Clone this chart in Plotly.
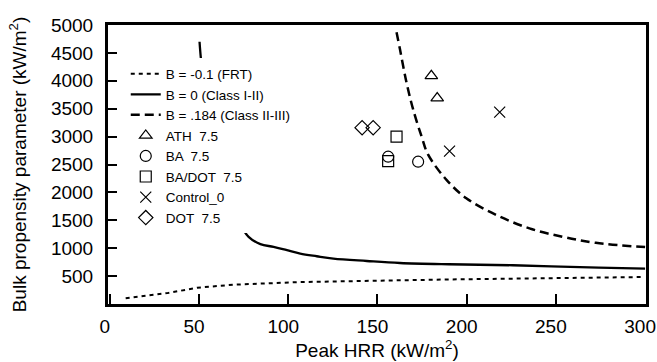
import plotly.graph_objects as go

# B = -0.1 (FRT) curve
frt_x = [8.9, 32.2, 49, 69.4, 106.7, 151.4, 190, 226, 298.5]
frt_y = [105, 195, 292, 346, 393, 423, 440, 454, 483]

# B = 0 (Class I-II) curve
b0_x = [50.3, 51.0, 52, 54, 57, 61, 65, 69.4, 73.2, 77.8, 84.4, 91.8, 99.3,
        106.7, 116, 125.3, 144, 162.6, 190, 225.9, 274, 300]
b0_y = [4700, 4420, 4150, 3600, 2900, 2300, 1900, 1595, 1414, 1204, 1072, 1024, 964,
        904, 856, 814, 771, 735, 712, 694, 652, 634]

# B = .184 (Class II-III) curve
b184_x = [160.7, 162.6, 166.3, 170, 174.7, 178.4, 188.7, 199.8, 216.6, 235.2, 253.8, 272.4, 300]
b184_y = [4870, 4568, 3968, 3487, 3005, 2676, 2225, 1895, 1595, 1355, 1204, 1096, 1020]

# Measured points
ath_x, ath_y = [180.2, 183.5], [4090, 3690]
ba_x, ba_y = [156.0, 172.8], [2640, 2550]
badot_x, badot_y = [156.0, 160.7], [2560, 3000]
ctrl_x, ctrl_y = [218.5, 190.4], [3440, 2740]
dot_x, dot_y = [141.4, 147.6], [3160, 3160]

x_ticks = [0, 50, 100, 150, 200, 250, 300]
y_ticks = [500, 1000, 1500, 2000, 2500, 3000, 3500, 4000, 4500, 5000]

FONT = "Liberation Sans, Arial, sans-serif"

fig = go.Figure()
fig.add_trace(go.Scatter(x=frt_x, y=frt_y, mode="lines", name="B = -0.1 (FRT)",
                         line=dict(color="black", width=2, dash="4px,4px")))
fig.add_trace(go.Scatter(x=b0_x, y=b0_y, mode="lines", name="B = 0 (Class I-II)",
                         line=dict(color="black", width=2.3, shape="spline")))
fig.add_trace(go.Scatter(x=b184_x, y=b184_y, mode="lines", name="B = .184 (Class II-III)",
                         line=dict(color="black", width=2.5, dash="9px,5px", shape="spline")))

mk = dict(color="black", size=11, line=dict(color="black", width=1.2))
fig.add_trace(go.Scatter(x=ath_x, y=ath_y, mode="markers", name="ATH  7.5",
                         marker=dict(symbol="triangle-up-open", **mk)))
fig.add_trace(go.Scatter(x=ba_x, y=ba_y, mode="markers", name="BA  7.5",
                         marker=dict(symbol="circle-open", **mk)))
fig.add_trace(go.Scatter(x=badot_x, y=badot_y, mode="markers", name="BA/DOT  7.5",
                         marker=dict(symbol="square-open", **mk)))
fig.add_trace(go.Scatter(x=ctrl_x, y=ctrl_y, mode="markers", name="Control_0",
                         marker=dict(symbol="x-thin-open", **mk)))
fig.add_trace(go.Scatter(x=dot_x, y=dot_y, mode="markers", name="DOT  7.5",
                         marker=dict(symbol="diamond-open", **mk)))

fig.update_layout(
    width=657, height=362,
    margin=dict(l=108, r=11, t=25, b=58, autoexpand=False),
    paper_bgcolor="white", plot_bgcolor="white",
    font=dict(family=FONT, color="black", size=19),
    showlegend=True,
    legend=dict(x=0.033, y=0.88, xanchor="left", yanchor="top",
                bgcolor="white", borderwidth=0,
                font=dict(family=FONT, size=13.5, color="black"),
                tracegroupgap=0),
)
fig.update_xaxes(
    range=[-1, 300.5], tickvals=x_ticks, ticktext=[str(v) for v in x_ticks],
    ticks="inside", ticklen=10, tickwidth=2, tickcolor="black",
    showline=True, linewidth=3, linecolor="black", mirror=True,
    showgrid=False, zeroline=False, automargin=False,
    tickfont=dict(size=19), ticklabelstandoff=3, ticklabelshift=-5,
    ticklabeloverflow="allow",
    title=dict(text="Peak HRR (kW/m<sup>2</sup>)", font=dict(size=19), standoff=8),
)
fig.update_yaxes(
    range=[0, 5000], tickvals=y_ticks, ticktext=[str(v) for v in y_ticks],
    ticks="inside", ticklen=9, tickwidth=2, tickcolor="black",
    showline=True, linewidth=3, linecolor="black", mirror=True,
    showgrid=False, zeroline=False, automargin=False,
    tickfont=dict(size=19), ticklabelstandoff=8,
    title=dict(text="Bulk propensity parameter (kW/m<sup>2</sup>)", font=dict(size=19), standoff=20),
)

fig.write_html("out.html")
